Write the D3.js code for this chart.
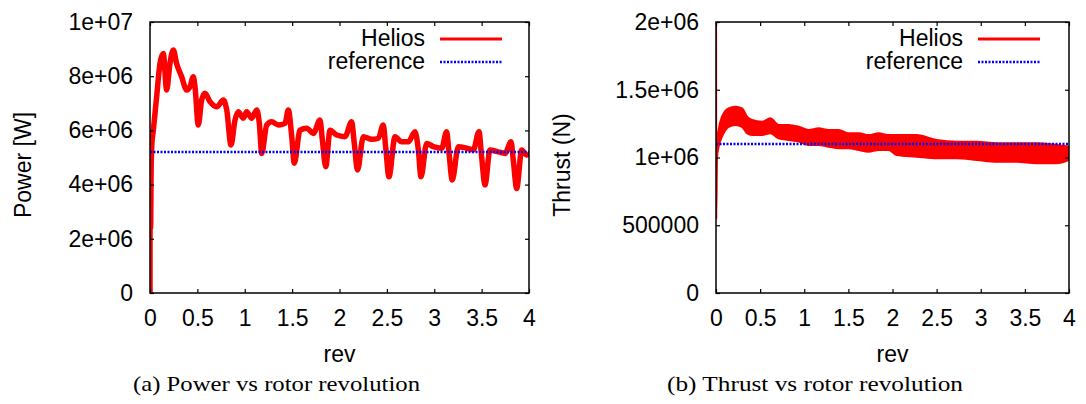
<!DOCTYPE html>
<html>
<head>
<meta charset="utf-8">
<script src="https://cdn.jsdelivr.net/npm/d3@7"></script>
<style>
  body { margin: 0; background: #fff; }
  svg { display: block; }
</style>
</head>
<body>
<div id="chart"></div>
<script>
// x axis, shared by both panels
const revTicks = [0, 0.5, 1, 1.5, 2, 2.5, 3, 3.5, 4]
const revTickLabels = ['0', '0.5', '1', '1.5', '2', '2.5', '3', '3.5', '4']

// (a) power
const powerTicks = [0, 2e6, 4e6, 6e6, 8e6, 1e7]
const powerTickLabels = ['0', '2e+06', '4e+06', '6e+06', '8e+06', '1e+07']
const powerRev = [
  0, 0.001, 0.006, 0.012, 0.02, 0.035, 0.07, 0.106, 0.14, 0.176,
  0.211, 0.246, 0.28, 0.334, 0.387, 0.422, 0.457, 0.475, 0.51, 0.545,
  0.58, 0.633, 0.704, 0.774, 0.81, 0.855, 0.897, 0.932, 0.985, 1.02,
  1.073, 1.126, 1.154, 1.179, 1.232, 1.284, 1.355, 1.425, 1.46, 1.496,
  1.523, 1.583, 1.654, 1.724, 1.794, 1.819, 1.855, 1.9, 1.97, 2.058,
  2.128, 2.156, 2.19, 2.252, 2.34, 2.41, 2.462, 2.487, 2.522, 2.586,
  2.656, 2.726, 2.797, 2.832, 2.86, 2.92, 2.99, 3.078, 3.131, 3.156,
  3.19, 3.254, 3.342, 3.412, 3.472, 3.5, 3.536, 3.588, 3.676, 3.747,
  3.81, 3.834, 3.87, 3.923, 3.976, 4.0
]
const powerHelios = [
  0, 5.3e6, 2.4e6, 4.6e6, 5.5e6, 6.0e6, 7.24e6, 8.48e6, 8.84e6, 7.49e6,
  8.48e6, 8.97e6, 8.48e6, 7.98e6, 7.49e6, 7.61e6, 7.98e6, 7.61e6, 6.2e6, 7.12e6,
  7.37e6, 7.06e6, 6.87e6, 7.12e6, 6.75e6, 5.46e6, 6.38e6, 6.69e6, 6.45e6, 6.69e6,
  6.45e6, 6.75e6, 6.26e6, 5.15e6, 6.2e6, 6.32e6, 6.2e6, 6.26e6, 6.75e6, 5.77e6,
  4.79e6, 6.01e6, 6.08e6, 5.89e6, 6.38e6, 5.65e6, 4.66e6, 6.01e6, 5.83e6, 5.77e6,
  6.32e6, 5.52e6, 4.54e6, 5.77e6, 5.67e6, 5.71e6, 6.2e6, 5.4e6, 4.29e6, 5.77e6,
  5.58e6, 5.58e6, 5.95e6, 5.28e6, 4.29e6, 5.52e6, 5.4e6, 5.34e6, 5.95e6, 5.15e6,
  4.17e6, 5.4e6, 5.34e6, 5.28e6, 5.95e6, 5.03e6, 3.99e6, 5.28e6, 5.21e6, 5.15e6,
  5.58e6, 4.91e6, 3.86e6, 5.28e6, 5.09e6, 5.15e6
]
const powerReference = 5.2e6

// (b) thrust, red band read as upper / lower edge
const thrustTicks = [0, 5e5, 1e6, 1.5e6, 2e6]
const thrustTickLabels = ['0', '500000', '1e+06', '1.5e+06', '2e+06']
const thrustRev = [
  0, 0.003, 0.012, 0.03, 0.068, 0.143, 0.219, 0.295, 0.351, 0.408,
  0.521, 0.616, 0.71, 0.823, 0.937, 1.05, 1.163, 1.277, 1.39, 1.503,
  1.617, 1.73, 1.844, 1.957, 2.047, 2.274, 2.5, 2.727, 2.954, 3.18,
  3.407, 3.634, 3.86, 4.0
]
const thrustUpper = [
  2.5e6, 0.55e6, 1.1e6, 1.203e6, 1.301e6, 1.363e6, 1.375e6, 1.363e6, 1.301e6, 1.277e6,
  1.264e6, 1.289e6, 1.24e6, 1.24e6, 1.227e6, 1.203e6, 1.215e6, 1.203e6, 1.203e6, 1.179e6,
  1.179e6, 1.166e6, 1.179e6, 1.166e6, 1.166e6, 1.166e6, 1.129e6, 1.117e6, 1.117e6, 1.105e6,
  1.105e6, 1.105e6, 1.092e6, 1.08e6
]
const thrustLower = [
  2.5e6, 0.55e6, 1.0e6, 1.08e6, 1.154e6, 1.227e6, 1.24e6, 1.227e6, 1.179e6, 1.166e6,
  1.166e6, 1.179e6, 1.142e6, 1.129e6, 1.117e6, 1.092e6, 1.092e6, 1.08e6, 1.068e6, 1.068e6,
  1.055e6, 1.043e6, 1.055e6, 1.055e6, 1.018e6, 1.006e6, 0.994e6, 0.994e6, 0.982e6, 0.969e6,
  0.969e6, 0.957e6, 0.957e6, 0.982e6
]
const thrustReference = 1.1e6

const legendNames = ['Helios', 'reference']

const W = 1086, H = 404
const font = '"Liberation Sans", Arial, sans-serif'

const svg = d3.select('#chart').append('svg')
  .attr('width', W).attr('height', H)

svg.append('rect').attr('width', W).attr('height', H).attr('fill', '#fff')

function panel(opt) {
  const { left, right, top, bottom } = opt
  const x = d3.scaleLinear().domain([0, 4]).range([left, right])
  const y = d3.scaleLinear().domain(opt.yDomain).range([bottom, top])
  const g = svg.append('g')

  const clipId = 'clip-' + opt.id
  svg.append('clipPath').attr('id', clipId)
    .append('rect')
    .attr('x', left).attr('y', top)
    .attr('width', right - left).attr('height', bottom - top)

  // curves
  const curves = g.append('g').attr('clip-path', 'url(#' + clipId + ')')
  if (opt.band) {
    const pts = opt.rev.map((r, i) => [r, opt.upper[i], opt.lower[i]])
    curves.append('path')
      .datum(pts)
      .attr('fill', '#ff0000')
      .attr('stroke', '#ff0000')
      .attr('stroke-width', 2)
      .attr('stroke-linejoin', 'round')
      .attr('d', d3.area()
        .curve(d3.curveMonotoneX)
        .x(d => x(d[0]))
        .y0(d => y(d[2]))
        .y1(d => y(d[1])))
  } else {
    const pts = opt.rev.map((r, i) => [r, opt.values[i]])
    curves.append('path')
      .datum(pts)
      .attr('fill', 'none')
      .attr('stroke', '#ff0000')
      .attr('stroke-width', 5.5)
      .attr('stroke-linejoin', 'round')
      .attr('d', d3.line().curve(d3.curveMonotoneX).x(d => x(d[0])).y(d => y(d[1])))
  }
  curves.append('line')
    .attr('x1', x(0)).attr('x2', x(4))
    .attr('y1', y(opt.reference)).attr('y2', y(opt.reference))
    .attr('stroke', '#0000ff')
    .attr('stroke-width', 2.5)
    .attr('stroke-dasharray', '2,1.5')

  // axes, gnuplot style: ticks inward, mirrored
  const bottomAxis = d3.axisBottom(x).tickValues(revTicks)
    .tickFormat((d, i) => revTickLabels[i]).tickSizeInner(-4).tickSizeOuter(0).tickPadding(17)
  const leftAxis = d3.axisLeft(y).tickValues(opt.yTicks)
    .tickFormat((d, i) => opt.yTickLabels[i]).tickSizeInner(-4).tickSizeOuter(0).tickPadding(17)
  const topAxis = d3.axisTop(x).tickValues(revTicks).tickFormat('').tickSizeInner(-4).tickSizeOuter(0)
  const rightAxis = d3.axisRight(y).tickValues(opt.yTicks).tickFormat('').tickSizeInner(-4).tickSizeOuter(0)

  g.append('g').attr('transform', 'translate(0,' + bottom + ')').call(bottomAxis)
  g.append('g').attr('transform', 'translate(' + left + ',0)').call(leftAxis)
  g.append('g').attr('transform', 'translate(0,' + top + ')').call(topAxis)
  g.append('g').attr('transform', 'translate(' + right + ',0)').call(rightAxis)
  g.selectAll('.domain').remove()
  g.selectAll('.tick line').attr('stroke', '#000').attr('stroke-width', 1.2)
  g.selectAll('.tick text')
    .attr('font-family', font).attr('font-size', 23).attr('fill', '#000')

  g.append('rect')
    .attr('x', left).attr('y', top)
    .attr('width', right - left).attr('height', bottom - top)
    .attr('fill', 'none').attr('stroke', '#000').attr('stroke-width', 1.5)

  // legend
  const lg = g.append('g')
  legendNames.forEach((name, i) => {
    const ly = 39 + i * 23
    lg.append('text')
      .attr('x', opt.legendX).attr('y', ly + 7)
      .attr('text-anchor', 'end')
      .attr('font-family', font).attr('font-size', 23)
      .text(name)
    lg.append('line')
      .attr('x1', opt.legendX + 15).attr('x2', opt.legendX + 77)
      .attr('y1', ly).attr('y2', ly)
      .attr('stroke', i === 0 ? '#ff0000' : '#0000ff')
      .attr('stroke-width', i === 0 ? 3 : 2.5)
      .attr('stroke-dasharray', i === 0 ? null : '2,1.5')
  })

  // axis titles
  g.append('text')
    .attr('transform', 'translate(' + opt.yLabelX + ',' + 165 + ') rotate(-90)')
    .attr('text-anchor', 'middle')
    .attr('font-family', font).attr('font-size', 23)
    .text(opt.yLabel)
  g.append('text')
    .attr('x', (left + right) / 2).attr('y', 362)
    .attr('text-anchor', 'middle')
    .attr('font-family', font).attr('font-size', 23)
    .text('rev')

  // caption
  g.append('text')
    .attr('x', opt.captionX).attr('y', 391)
    .attr('font-family', '"Liberation Serif", "Times New Roman", serif')
    .attr('font-size', 22)
    .attr('textLength', opt.captionW)
    .attr('lengthAdjust', 'spacingAndGlyphs')
    .text(opt.caption)
}

panel({
  id: 'power', left: 150, right: 529, top: 22, bottom: 293,
  yDomain: [0, 1e7], yTicks: powerTicks, yTickLabels: powerTickLabels,
  rev: powerRev, values: powerHelios, reference: powerReference,
  legendX: 425, yLabel: 'Power [W]', yLabelX: 31,
  caption: '(a) Power vs rotor revolution', captionX: 133, captionW: 287
})

panel({
  id: 'thrust', left: 716, right: 1069, top: 22, bottom: 293,
  yDomain: [0, 2e6], yTicks: thrustTicks, yTickLabels: thrustTickLabels,
  rev: thrustRev, upper: thrustUpper, lower: thrustLower, band: true,
  reference: thrustReference,
  legendX: 963, yLabel: 'Thrust (N)', yLabelX: 570,
  caption: '(b) Thrust vs rotor revolution', captionX: 667, captionW: 296
})
</script>
</body>
</html>
